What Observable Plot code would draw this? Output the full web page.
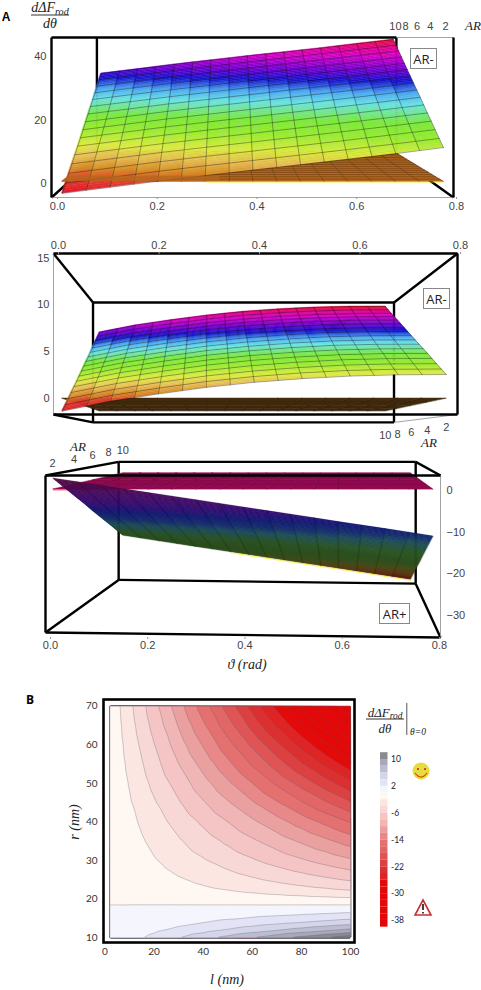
<!DOCTYPE html>
<html><head><meta charset="utf-8">
<script src="https://cdn.jsdelivr.net/npm/d3@7"></script>
<script src="https://cdn.jsdelivr.net/npm/@observablehq/plot@0.6"></script>
<style>
html,body{margin:0;padding:0;background:#fff}
#page{position:relative;width:481px;height:990px;overflow:hidden;font-family:"Liberation Sans",sans-serif}
#page>svg{position:absolute;left:0}
.t{position:absolute;transform:translate(-50%,-50%);white-space:nowrap;color:#222;line-height:1}
.m{font-family:"Liberation Serif",serif;font-style:italic}
.box{position:absolute;background:#fff;border:1px solid #888;box-sizing:border-box;display:flex;align-items:center;justify-content:center;font-size:13px;color:#222;font-family:"Open Sans",sans-serif}
</style></head><body><div id="page"></div>
<script>
// ---------- values ----------
const thetaValues = [0, .1, .2, .3, .4, .5, .6, .7, .8];
const arValues = [2, 3, 4, 5, 6, 7, 8, 9, 10];
const arTicks = [10, 8, 6, 4, 2];
const thetaTicks = [0, .2, .4, .6, .8];

const arMinusTop = [
 [-5.4,-3.4,-1.4,.45,2.25,4.05,5.85,7.7,9.7],
 [-.9,1.1,3.1,4.95,6.7,8.5,10.3,12.2,14.1],
 [3.6,5.6,7.6,9.4,11.2,13,14.8,16.6,18.5],
 [8,10,12,13.85,15.65,17.45,19.25,21.1,23],
 [12.5,14.5,16.5,18.3,20.1,21.9,23.7,25.5,27.4],
 [17.1,19,21,22.8,24.6,26.4,28.1,29.9,31.8],
 [21.6,23.6,25.5,27.3,29.1,30.8,32.6,34.4,36.2],
 [26,28,29.9,31.7,33.5,35.3,37.1,38.9,40.7],
 [30.5,32.4,34.4,36.2,38,39.7,41.4,43.3,45.1]];
const arMinusMiddle = [
 [-1.22,-.12,.71,1.45,2.02,2.43,2.72,2.86,2.89],
 [.42,1.5,2.33,3.07,3.64,4.05,4.34,4.48,4.5],
 [2.1,3.15,3.98,4.72,5.29,5.7,5.99,6.13,6.16],
 [3.72,4.8,5.62,6.36,6.92,7.33,7.62,7.75,7.76],
 [5.37,6.45,7.26,8,8.55,8.95,9.24,9.37,9.38],
 [7.02,8.08,8.9,9.62,10.18,10.58,10.86,10.98,11],
 [8.7,9.75,10.55,11.27,11.8,12.2,12.48,12.62,12.64],
 [10.3,11.35,12.15,12.85,13.4,13.8,14.06,14.2,14.24],
 [12,13.05,13.85,14.55,15.1,15.48,15.75,15.88,15.9]];
const arPlusBottom = [
 [2.5,.75,-1.05,-2.8,-4.6,-6.35,-8.15,-9.9,-11.7],
 [-.36,-2.15,-3.9,-5.7,-7.5,-9.25,-11.05,-12.8,-14.6],
 [-3.26,-5.05,-6.8,-8.6,-10.4,-12.15,-13.95,-15.7,-17.5],
 [-6.1,-7.9,-9.65,-11.45,-13.25,-15,-16.8,-18.6,-20.4],
 [-9.08,-10.85,-12.65,-14.45,-16.2,-18,-19.8,-21.6,-23.4],
 [-11.94,-13.7,-15.5,-17.25,-19.05,-20.85,-22.6,-24.4,-26.2],
 [-14.8,-16.6,-18.4,-20.15,-21.95,-23.75,-25.5,-27.3,-29.1],
 [-17.7,-19.5,-21.3,-23.05,-24.85,-26.65,-28.4,-30.2,-32],
 [-20.6,-22.4,-24.2,-25.95,-27.75,-29.55,-31.3,-33.1,-34.9]];
// the nearly flat companion sheets: [theta 0, theta 0.8] at AR 2 and AR 10
const planeAxisTheta = [0, .8], planeAxisAR = [2, 10];
const planeTop = [[-1.5,-1.5],[-3,-3]];
const planeMiddle = [[.2,.2],[.1,.1]];
const planeBottom = [[-.15,-.15],[-.33,-.33]];

// panel B: d(dF_rod)/d(theta) at theta=0
const lengthValues = [2,5,10,15,20,30,40,50,60,70,80,90,100];
const radiusValues = [70,65,60,55,50,45,40,35,30,28,26,24,22,20,18.5,16,14,12,10];
const energyValues = [
 [-.39,-1.54,-3.47,-5.39,-7.32,-11.17,-15.02,-18.87,-22.72,-26.57,-30.42,-34.27,-38.12],
 [-.35,-1.4,-3.15,-4.9,-6.65,-10.15,-13.65,-17.15,-20.65,-24.15,-27.65,-31.15,-34.65],
 [-.31,-1.25,-2.81,-4.37,-5.93,-9.05,-12.17,-15.29,-18.41,-21.53,-24.65,-27.77,-30.89],
 [-.28,-1.1,-2.48,-3.85,-5.23,-7.98,-10.73,-13.48,-16.23,-18.98,-21.73,-24.48,-27.23],
 [-.24,-.95,-2.13,-3.32,-4.5,-6.87,-9.24,-11.61,-13.98,-16.35,-18.72,-21.09,-23.46],
 [-.2,-.8,-1.8,-2.8,-3.8,-5.8,-7.8,-9.8,-11.8,-13.8,-15.8,-17.8,-19.8],
 [-.16,-.65,-1.47,-2.28,-3.1,-4.73,-6.36,-7.99,-9.62,-11.25,-12.88,-14.51,-16.14],
 [-.13,-.52,-1.17,-1.82,-2.47,-3.77,-5.07,-6.37,-7.67,-8.97,-10.27,-11.57,-12.87],
 [-.1,-.39,-.88,-1.37,-1.86,-2.84,-3.82,-4.8,-5.78,-6.76,-7.74,-8.72,-9.7],
 [-.08,-.34,-.76,-1.18,-1.6,-2.44,-3.28,-4.12,-4.96,-5.8,-6.64,-7.48,-8.32],
 [-.07,-.28,-.63,-.98,-1.33,-2.03,-2.73,-3.43,-4.13,-4.83,-5.53,-6.23,-6.93],
 [-.06,-.22,-.5,-.77,-1.05,-1.6,-2.15,-2.7,-3.25,-3.8,-4.35,-4.9,-5.45],
 [-.04,-.15,-.34,-.53,-.72,-1.1,-1.48,-1.86,-2.24,-2.62,-3,-3.38,-3.76],
 [-.02,-.06,-.14,-.22,-.3,-.46,-.62,-.78,-.94,-1.1,-1.26,-1.42,-1.58],
 [.001,.001,.001,.001,.001,.001,.001,.001,.001,.001,.001,.001,.001],
 [.03,.1,.23,.35,.48,.73,.98,1.23,1.48,1.73,1.98,2.23,2.48],
 [.05,.2,.45,.7,.95,1.45,1.95,2.45,2.95,3.45,3.95,4.45,4.95],
 [.09,.34,.77,1.19,1.62,2.47,3.32,4.17,5.02,5.87,6.72,7.57,8.42],
 [.14,.54,1.22,1.89,2.57,3.92,5.27,6.62,7.97,9.32,10.67,12.02,13.37]];
const legendTicks = [10,2,-6,-14,-22,-30,-38];
const legendBands = [12,10,8,6,4,2,0,-2,-4,-6,-8,-10,-12,-14,-16,-18,-20,-22,-24,-26,-28,-30,-32,-34,-36,-38,-40];
const bandStops = [-40,-28,-26,-24,-22,-20,-18,-16,-14,-12,-10,-8,-6,-4,-2,-.01,0,2,4,6,8,10,12];
const bandColors = ["#e40606","#e40a0a","#de2424","#dc3030","#dc4040","#df5555","#e26666","#e47070","#e88888","#eba0a0","#f0b5b5","#f5c5c5","#f8d8d6","#fbe6e2","#fff8f2","#fff8f2","#f5f6fd","#e2e3f5","#d4d5e8","#bcbdd0","#a8a8b8","#8a8a90","#7c7c7c"];

const hueStops = [0,.067,.127,.186,.245,.34,.42,.53,.6,.68,.76,.86,.93,1];
const hueBright = ["#e20f28","#e04030","#d89028","#e8c058","#dcea40","#96ea30","#7ae838","#68e2e2","#4aa8f0","#1414cc","#7000d0","#d000c8","#e20090","#e81030"];
const hueDark = ["#6e1010","#6e3810","#5e4c14","#46561a","#34581c","#2c5a1e","#2c5e28","#1e5664","#14307a","#101a80","#340c80","#4a0a70","#560a58","#5a0a40"];

// ---------- helpers ----------
const page = document.getElementById("page");
const fmt1 = d3.format(".1f");
function sample(tbl, xs, ys, x, y) {
  const ix = Math.min(xs.length - 2, Math.max(0, d3.bisectRight(xs, x) - 1));
  const iy = Math.min(ys.length - 2, Math.max(0, d3.bisectRight(ys, y) - 1));
  const u = (x - xs[ix]) / (xs[ix+1] - xs[ix]), v = (y - ys[iy]) / (ys[iy+1] - ys[iy]);
  return (tbl[iy][ix]*(1-u) + tbl[iy][ix+1]*u)*(1-v) + (tbl[iy+1][ix]*(1-u) + tbl[iy+1][ix+1]*u)*v;
}
function place(svg, top) { svg.style.top = top + "px"; page.appendChild(svg); }
function text(x, y, html, cls, css) {
  const d = document.createElement("div");
  d.className = "t " + (cls||""); d.style.left = x + "px"; d.style.top = y + "px";
  if (css) d.style.cssText += css; d.innerHTML = html; page.appendChild(d);
}
function fraction(x, y, size) {
  text(x, y - 7, 'dΔF<sub style="font-size:.72em;vertical-align:-.25em;line-height:0">rod</sub>', "m", `font-size:${size}px`);
  text(x, y, '<div style="width:38px;height:1px;background:#333"></div>');
  text(x, y + 9, 'dθ', "m", `font-size:${size}px`);
}
function box(x, y, w, h, label) {
  const d = document.createElement("div"); d.className = "box";
  d.style.cssText = `left:${x}px;top:${y}px;width:${w}px;height:${h}px`; d.textContent = label; page.appendChild(d);
}

function panel3D(c) {
  const S = ar => 1 / (c.a + c.b * ar);
  const at = (t, s, z) => [c.tv + (t - c.tv) * s, c.zv + (z - c.zv) * s];
  const proj = (t, ar, z) => at(t, S(ar), z);
  const link = () => ({x1: d => at(d[0],d[1],d[2])[0], y1: d => at(d[0],d[1],d[2])[1], x2: d => at(d[3],d[4],d[5])[0], y2: d => at(d[3],d[4],d[5])[1], stroke: "black"});
  const tessellate = (tbl, xs, ys, nRows) => {
    const out = []; const nCols = 16;
    for (let i = 0; i < nCols; i++) for (let j = 0; j < nRows; j++) {
      const ta = .8*i/nCols, tb = .8*(i+1)/nCols, ra = 2+8*j/nRows, rb = 2+8*(j+1)/nRows;
      const v = sample(tbl, xs, ys, (ta+tb)/2, (ra+rb)/2), id = i*1000+j;
      for (const t of [ta, tb]) {
        const p = proj(t, ra, sample(tbl, xs, ys, t, ra)), q = proj(t, rb, sample(tbl, xs, ys, t, rb));
        out.push({x1:p[0], y1:p[1], x2:q[0], y2:q[1], v, id});
      }
    }
    return out;
  };
  const mesh = (tbl, xs, ys, rows) => {
    const out = [];
    for (let i = 0; i <= 16; i++) for (let j = 0; j <= 32; j++) {
      const t = .8*i/16, r = 2+8*j/32, p = proj(t, r, sample(tbl, xs, ys, t, r));
      out.push({x:p[0], y:p[1], id:"c"+i});
    }
    for (let j = 0; j <= rows; j++) for (let i = 0; i <= 16; i++) {
      const t = .8*i/16, r = 2+8*j/rows, p = proj(t, r, sample(tbl, xs, ys, t, r));
      out.push({x:p[0], y:p[1], id:"r"+j});
    }
    return out;
  };
  const planePoint = (t, r) => proj(t, r, sample(c.plane, planeAxisTheta, planeAxisAR, t, r));
  const zmin = d3.min(c.table.flat()), zmax = d3.max(c.table.flat());
  const plane = tessellate(c.plane, planeAxisTheta, planeAxisAR, 4);
  const main = tessellate(c.table, thetaValues, arValues, c.fineRows);
  const overlay = c.overlay ? d3.range(0, 9).map(i => {
    const t = c.overlay.theta*i/8, p = planePoint(t, 2), q = planePoint(t, c.overlay.ar);
    return {x1:p[0], y1:p[1], x2:q[0], y2:q[1]};
  }) : null;
  const planeEdge = c.planeEdge ? c.planeEdge.map(t => { const p = planePoint(t, 2); return {x:p[0], y:p[1]}; }) : null;
  const marks = [
    Plot.link(c.behind, {...link(), strokeWidth: 2.4}),
    Plot.area(plane, {x1:"x1", y1:"y1", x2:"x2", y2:"y2", z:"id", fill:c.planeColor, stroke:c.planeColor, strokeWidth:.5}),
    Plot.line(mesh(c.plane, planeAxisTheta, planeAxisAR, 16), {x:"x", y:"y", z:"id", stroke:"#1a0a00", strokeWidth:.6, strokeOpacity:c.planeMesh}),
    planeEdge ? Plot.line(planeEdge, {x:"x", y:"y", stroke:c.planeEdgeColor, strokeWidth:.8, strokeOpacity:.8, dy:.5}) : null,
    Plot.area(main, {x1:"x1", y1:"y1", x2:"x2", y2:"y2", z:"id", fill:"v", stroke:"v", strokeWidth:.5}),
    Plot.line(mesh(c.table, thetaValues, arValues, c.meshRows), {x:"x", y:"y", z:"id", stroke:"#0a0a0a", strokeWidth:.6, strokeOpacity:c.meshOpacity}),
    overlay ? Plot.area(overlay, {x1:"x1", y1:"y1", x2:"x2", y2:"y2", fill:c.planeColor, fillOpacity:c.overlay.opacity}) : null,
    c.edge ? Plot.line(thetaValues.slice(3).map(t => { const p = proj(t, c.edge, sample(c.table, thetaValues, arValues, t, c.edge)); return {x:p[0], y:p[1]}; }), {x:"x", y:"y", stroke:"#f4f000", strokeWidth:.8, strokeOpacity:.8, dy:.8}) : null,
    Plot.link(c.thin, {...link(), stroke:"#999", strokeWidth:.9}),
    Plot.link(c.front, {...link(), strokeWidth: 2.4}),
    Plot.axisX({anchor:c.xAnchor, ticks:thetaTicks, tickFormat:fmt1, tickSize:2, tickPadding:c.xPad, dx:c.xDx, label:null, stroke:"#999"}),
    Plot.axisY({anchor:c.yAnchor, ticks:c.yTicks, tickSize:0, tickPadding:c.yPad, label:null}),
    Plot.text(arTicks, {x:d => proj(c.arTheta, d, c.arZ)[0], y:d => proj(c.arTheta, d, c.arZ)[1], text:d => String(d), dx:c.arDx, dy:c.arDy, fontSize:11, fill:"#444"})
  ].filter(Boolean);
  const svg = Plot.plot({
    width:481, height:c.height, marginTop:c.mt, marginBottom:c.mb, marginLeft:c.ml, marginRight:c.mr,
    x:{domain:c.xDomain}, y:{domain:c.yDomain},
    color:{type:"linear", domain:hueStops.map(t => zmin + t*(zmax-zmin)), range:c.hues, clamp:true},
    style:{background:"transparent", overflow:"visible", fontSize:"11px", fontFamily:"Liberation Sans", color:"#444"},
    marks
  });
  place(svg, c.top);
}

// ---------- A, top ----------
{ const L=-.006,R=.8,T=46,B=-4.4,s=.745;
panel3D({top:0,height:220,mt:37,mb:23,ml:51,mr:28,xDomain:[L,R],yDomain:[B,T],tv:.351,zv:46,a:.967,b:.0399,
 table:arMinusTop,plane:planeTop,planeColor:"#b4681e",planeMesh:.5,planeEdge:[.3,.8],planeEdgeColor:"#f4f000",overlay:{theta:.33,ar:3.1,opacity:.75},hues:hueBright,fineRows:64,meshRows:15,meshOpacity:.6,
 behind:[[L,s,T,L,s,B],[R,s,T,R,s,B],[L,1,B,L,s,B],[R,1,B,R,s,B],[L,s,B,R,s,B]],
 thin:[[R,s,T,R,1,T],[L,1,B,R,1,B]],
 front:[[L,1,T,R,s,T],[L,1,T,L,1,B],[R,1,T,R,1,B]],
 xAnchor:"bottom",xPad:3,xDx:3,yAnchor:"left",yTicks:[0,20,40],yPad:5,arTheta:.8,arZ:T,arDx:2,arDy:-11});
}
// ---------- A, middle ----------
{ const L=-.004,R=.8,T=15.5,B=-1.75,s=.745;
panel3D({top:220,height:225,mt:33,mb:31,ml:53,mr:24,xDomain:[L,R],yDomain:[B,T],tv:.3045,zv:-5.07,a:.957,b:.0451,
 table:arMinusMiddle,plane:planeMiddle,planeColor:"#4a3210",planeMesh:.3,hues:hueBright,fineRows:64,meshRows:16,meshOpacity:.6,
 behind:[[L,s,T,R,s,T],[L,s,T,L,s,B],[R,s,T,R,s,B],[L,s,B,R,s,B],[L,1,T,L,s,T],[R,1,T,R,s,T],[L,1,B,L,s,B]],
 thin:[[L,1,T,L,1,B],[R,1,B,R,s,B]],
 front:[[L,1,T,R,1,T],[R,1,T,R,1,B],[L,1,B,R,1,B]],
 xAnchor:"top",xPad:3,xDx:3,yAnchor:"left",yTicks:[0,5,10,15],yPad:4,arTheta:.8,arZ:B,arDx:0,arDy:12});
}
// ---------- A, bottom ----------
{ const L=-.002,R=.8103,T=3.6,BL=-34.05,BR=-35.25,s=.752;
panel3D({top:440,height:225,mt:35,mb:28,ml:45,mr:41,xDomain:[L,R],yDomain:[-35.25,T],tv:.6046,zv:16.8,a:.942,b:.0413,
 table:arPlusBottom,plane:planeBottom,planeColor:"#a50a5e",planeMesh:.3,planeEdge:[0,.13],planeEdgeColor:"#f01818",edge:10,hues:hueDark,fineRows:64,meshRows:40,meshOpacity:.3,
 behind:[[L,s,T,R,s,T],[L,s,T,L,s,BL],[R,s,T,R,s,BR],[L,s,BL,R,s,BR],[R,1,T,R,s,T],[L,1,BL,L,s,BL],[R,1,BR,R,s,BR]],
 thin:[[R,1,T,R,1,BR]],
 front:[[L,1,T,R,1,T],[L,1,T,L,1,BL],[L,1,BL,R,1,BR],[L,1,T,L,s,T]],
 xAnchor:"bottom",xPad:2,xDx:4,yAnchor:"right",yTicks:[0,-10,-20,-30],yPad:6,arTheta:L,arZ:T,arDx:0,arDy:-11});
}

// ---------- B ----------
const contourPoints = radiusValues.flatMap((r,i) => lengthValues.map((l,j) => ({l, r, v:energyValues[i][j]})));
const bandColor = {type:"linear", domain:bandStops, range:bandColors, clamp:true};
place(Plot.plot({
  width:481, height:300, marginTop:9, marginBottom:48, marginLeft:103, marginRight:127,
  x:{domain:[-.6,101.6]}, y:{domain:[8.75,71.74]}, color:bandColor,
  style:{background:"transparent", overflow:"visible", fontFamily:"Lato", fontSize:"10px", color:"#333"},
  marks:[
    Plot.contour(contourPoints, {x:"l", y:"r", fill:"v", x1:2, x2:100, y1:10, y2:70, interpolate:"barycentric", pixelSize:1, thresholds:d3.range(-42,14,2), stroke:"#605868", strokeOpacity:.45, strokeWidth:.7}),
    Plot.frame({stroke:"black", strokeWidth:2.6}),
    Plot.axisX({ticks:[0,20,40,60,80,100], tickSize:0, tickPadding:5, label:null}),
    Plot.axisY({ticks:[10,20,30,40,50,60,70], tickSize:0, tickPadding:6, label:null})
  ]
}), 690);

// colour bar
place(Plot.plot({
  width:70, height:190, marginTop:7, marginBottom:7, marginLeft:10, marginRight:52.5,
  x:{domain:[0,1], axis:null}, y:{domain:[-40.4,12.1]}, color:bandColor,
  style:{background:"transparent", overflow:"visible", fontFamily:"Lato", fontSize:"8.5px", color:"#223"},
  marks:[
    Plot.rect(legendBands, {x1:0, x2:1, y1:d => Math.max(d,-40.4), y2:d => Math.min(d+2,12.1), fill:d => d}),
    Plot.axisY({anchor:"right", ticks:legendTicks, tickFormat:d => String(d), tickSize:0, tickPadding:3, label:null})
  ]
}), 745);
page.lastChild.style.left = "370px";

// ---------- annotations ----------
text(6,17,"A",null,"font-weight:bold;font-size:12px;color:#000");
text(30,700,"B",null,"font-weight:bold;font-size:12px;color:#000;font-family:'Open Sans'");
fraction(50,15,14); fraction(385,719,13);
text(407,719,'<div style="width:1.4px;height:32px;background:#555"></div>');
text(418,733,'θ=0',"m","font-size:9.5px");
text(473,25,"AR","m","font-size:13px");
text(429,442,"AR","m","font-size:13px");
text(78,446,"AR","m","font-size:13px");
text(247,665,"ϑ (rad)","m","font-size:14px");
text(227,980,"l (nm)","m","font-size:14px");
text(75,822,"r (nm)","m","font-size:14px;transform:translate(-50%,-50%) rotate(-90deg)");
box(410,48,27,21,"AR-"); box(423,288,27,21,"AR-"); box(379,603,31,21,"AR+");

// smiley and warning sign
const deco = document.createElement("div");
deco.innerHTML = `<svg xmlns="http://www.w3.org/2000/svg" width="481" height="990" style="position:absolute;left:0;top:0;pointer-events:none">
<circle cx="421" cy="771" r="8.5" fill="#e6dc3c"/><circle cx="418" cy="769" r="1" fill="#c02020"/><circle cx="425" cy="769" r="1" fill="#c02020"/>
<path d="M415 773 Q421 781 427 773" fill="none" stroke="#d04010" stroke-width="1.2"/>
<path d="M423 900 L431 915 L415 915 Z" fill="#fff" stroke="#c83030" stroke-width="1.6"/>
<path d="M423 904 L423 910 M423 912 L423 913.5" stroke="#111" stroke-width="1.6"/></svg>`;
page.appendChild(deco);
</script></body></html>
